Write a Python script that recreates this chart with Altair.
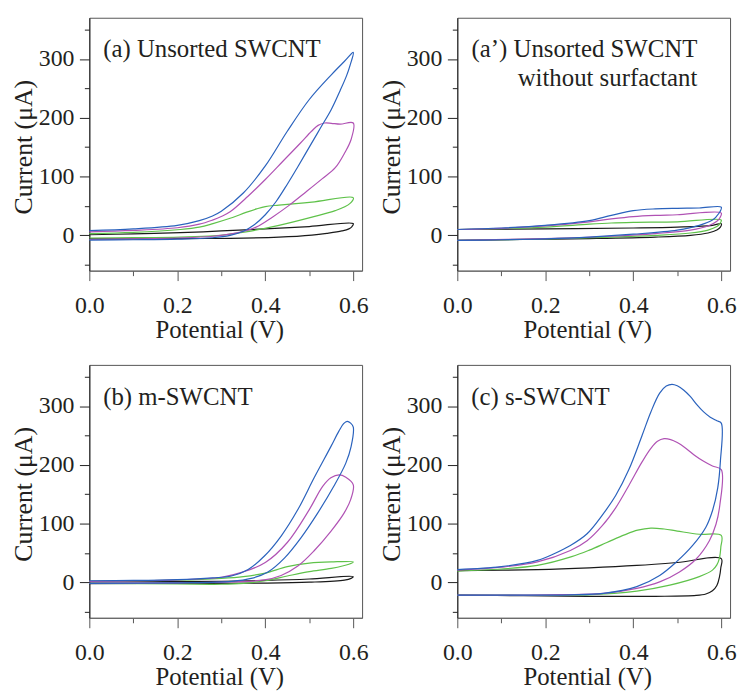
import altair as alt
import pandas as pd

FONT = "Liberation Serif"
TXT = "#231f20"

SERIES = ["black", "green", "magenta", "blue"]
COLORS = ["#1a1a1a", "#5fc24a", "#b052b4", "#2a62bd"]

# ---- panel (a) Unsorted SWCNT ----
A_BLACK_V = [0.00, 0.10, 0.207, 0.30, 0.40, 0.50, 0.60, 0.597, 0.59, 0.574, 0.54, 0.506, 0.431, 0.319, 0.20, 0.10, 0.00]
A_BLACK_I = [1, 2.5, 4.5, 7.5, 11, 15, 20, 15, 11, 7.5, 3.5, 0.5, -3, -5, -5.5, -6, -6]
A_GREEN_V = [0.00, 0.10, 0.207, 0.25, 0.281, 0.32, 0.356, 0.38, 0.40, 0.431, 0.506, 0.60, 0.592, 0.559, 0.506, 0.431, 0.356, 0.281, 0.207, 0.10, 0.00]
A_GREEN_I = [3, 5, 10, 14, 20, 29, 39, 45, 49, 51.5, 56.5, 64, 54, 42, 31, 17, 6, -1, -3, -4, -4.5]
A_MAGENTA_V = [0.00, 0.10, 0.20, 0.25, 0.28, 0.30, 0.32, 0.36, 0.40, 0.44, 0.48, 0.505, 0.52, 0.535, 0.55, 0.57, 0.60, 0.595, 0.581, 0.559, 0.529, 0.491, 0.454, 0.416, 0.379, 0.341, 0.281, 0.20, 0.10, 0.00]
A_MAGENTA_I = [6, 8.5, 13, 19, 26, 32, 40, 66, 95, 126, 157, 177, 187, 191, 190.5, 189, 191, 163, 141, 115, 96, 73, 51, 31, 14, 5, -1.5, -4.5, -6, -7]
A_BLUE_V = [0.00, 0.10, 0.20, 0.25, 0.28, 0.30, 0.35, 0.40, 0.45, 0.50, 0.55, 0.58, 0.60, 0.593, 0.585, 0.57, 0.55, 0.525, 0.50, 0.475, 0.45, 0.425, 0.40, 0.375, 0.35, 0.32, 0.28, 0.20, 0.10, 0.00]
A_BLUE_I = [8, 11, 17, 25, 33, 41, 72, 118, 177, 231, 273, 296, 311, 290, 272, 246, 214, 182, 150, 118, 87, 58, 35, 18, 7, 0, -4, -6.5, -7.5, -8]

# ---- panel (a') Unsorted SWCNT without surfactant ----
P_BLACK_V = [0.00, 0.20, 0.40, 0.50, 0.58, 0.60, 0.598, 0.59, 0.57, 0.53, 0.45, 0.30, 0.15, 0.00]
P_BLACK_I = [10, 11, 12.5, 14, 17, 20, 14, 9, 4, 0, -3, -5.5, -7, -8.5]
P_GREEN_V = [0.00, 0.10, 0.20, 0.30, 0.35, 0.40, 0.50, 0.60, 0.597, 0.59, 0.57, 0.53, 0.45, 0.35, 0.20, 0.00]
P_GREEN_I = [10, 11.5, 14, 19, 21, 22, 23, 26, 20, 15, 9, 4, 0, -3, -6, -8.5]
P_MAGENTA_V = [0.00, 0.10, 0.20, 0.30, 0.35, 0.40, 0.45, 0.50, 0.60, 0.597, 0.59, 0.57, 0.53, 0.45, 0.35, 0.20, 0.00]
P_MAGENTA_I = [10, 12, 16, 23, 28, 32, 34, 35, 38, 30, 24, 16, 9, 3, -1.5, -5.5, -8.5]
P_BLUE_V = [0.00, 0.10, 0.20, 0.30, 0.35, 0.40, 0.45, 0.50, 0.55, 0.60, 0.597, 0.59, 0.58, 0.55, 0.50, 0.40, 0.30, 0.20, 0.10, 0.00]
P_BLUE_I = [10, 12.5, 17, 25, 34, 42, 45, 46, 46.5, 48, 40, 33, 26, 17, 9, 2, -3, -6, -7.5, -8.5]

# ---- panel (b) m-SWCNT ----
B_BLACK_V = [0.00, 0.30, 0.40, 0.50, 0.60, 0.595, 0.58, 0.50, 0.40, 0.20, 0.00]
B_BLACK_I = [1, 2, 3.5, 6, 10, 7, 4, 0.5, -1, -1.5, -2]
B_GREEN_V = [0.00, 0.20, 0.30, 0.35, 0.40, 0.45, 0.50, 0.55, 0.60, 0.59, 0.55, 0.50, 0.45, 0.40, 0.35, 0.30, 0.20, 0.00]
B_GREEN_I = [2, 4, 7, 10, 16, 27, 33, 35, 35, 31, 24, 18.5, 11, 3, -1.5, -3, -2.5, -1.5]
B_MAGENTA_V = [0.00, 0.20, 0.30, 0.35, 0.40, 0.45, 0.50, 0.53, 0.549, 0.568, 0.583, 0.60, 0.594, 0.579, 0.549, 0.511, 0.474, 0.436, 0.398, 0.323, 0.20, 0.00]
B_MAGENTA_I = [2, 4.5, 9, 18, 34, 68, 124, 163, 178, 183, 179, 166, 141, 118, 87, 54, 28, 12, 4.5, 1, -0.5, -1.5]
B_BLUE_V = [0.00, 0.10, 0.20, 0.28, 0.323, 0.361, 0.398, 0.436, 0.474, 0.511, 0.549, 0.567, 0.578, 0.586, 0.594, 0.60, 0.595, 0.583, 0.556, 0.519, 0.481, 0.444, 0.406, 0.368, 0.323, 0.20, 0.00]
B_BLUE_I = [3, 3.5, 5, 8, 11, 22, 45, 79, 124, 178, 231, 257, 270, 274, 271, 264, 231, 203, 164, 118, 76, 42, 18, 7, 2, -0.5, -1.5]

# ---- panel (c) s-SWCNT ----
C_BLACK_V = [0.00, 0.182, 0.30, 0.408, 0.50, 0.60, 0.599, 0.596, 0.59, 0.58, 0.565, 0.543, 0.45, 0.30, 0.15, 0.00]
C_BLACK_I = [20, 22, 25, 29, 34, 40.5, 25, 10, -5, -14, -19.5, -22, -23.5, -23.5, -22.5, -21.5]
C_GREEN_V = [0.00, 0.10, 0.182, 0.26, 0.30, 0.34, 0.38, 0.41, 0.44, 0.47, 0.50, 0.55, 0.60, 0.599, 0.596, 0.59, 0.58, 0.55, 0.483, 0.408, 0.295, 0.10, 0.00]
C_GREEN_I = [19.5, 23, 29, 44, 55, 68, 81, 89, 92.5, 91, 87.5, 82, 80, 60, 42, 30, 21, 10, -4.5, -14.6, -21, -21.5, -21.5]
C_MAGENTA_V = [0.00, 0.10, 0.182, 0.257, 0.295, 0.33, 0.36, 0.39, 0.42, 0.44, 0.455, 0.47, 0.485, 0.50, 0.52, 0.54, 0.56, 0.58, 0.60, 0.597, 0.588, 0.573, 0.543, 0.505, 0.46, 0.408, 0.332, 0.20, 0.00]
C_MAGENTA_I = [21, 26, 35, 54.5, 71, 97, 127, 165, 205, 228, 240, 244.5, 243, 238, 228, 216, 206, 198, 192, 133, 99, 71, 40, 18, 1, -10, -18.5, -21, -21.5]
C_BLUE_V = [0.00, 0.10, 0.182, 0.22, 0.257, 0.295, 0.33, 0.36, 0.39, 0.42, 0.44, 0.46, 0.475, 0.488, 0.50, 0.515, 0.53, 0.545, 0.56, 0.575, 0.59, 0.60, 0.598, 0.592, 0.58, 0.565, 0.535, 0.498, 0.46, 0.408, 0.332, 0.257, 0.10, 0.00]
C_BLUE_I = [22, 27, 37.6, 49, 63, 83, 115, 148, 192, 250, 290, 322, 334, 337, 334.5, 327, 316, 302, 290, 281, 275, 271, 206, 161, 122, 94, 63, 35, 12, -7, -18.5, -21, -21.5, -21.5]

X_TICKS = [0.0, 0.1, 0.2, 0.3, 0.4, 0.5, 0.6]
Y_TICKS = [-50, 0, 50, 100, 150, 200, 250, 300, 350]
X_DOMAIN = [0, 0.62]
Y_DOMAIN = [-60, 370]

PANELS = {
    "a": [(A_BLACK_V, A_BLACK_I), (A_GREEN_V, A_GREEN_I), (A_MAGENTA_V, A_MAGENTA_I), (A_BLUE_V, A_BLUE_I)],
    "p": [(P_BLACK_V, P_BLACK_I), (P_GREEN_V, P_GREEN_I), (P_MAGENTA_V, P_MAGENTA_I), (P_BLUE_V, P_BLUE_I)],
    "b": [(B_BLACK_V, B_BLACK_I), (B_GREEN_V, B_GREEN_I), (B_MAGENTA_V, B_MAGENTA_I), (B_BLUE_V, B_BLUE_I)],
    "c": [(C_BLACK_V, C_BLACK_I), (C_GREEN_V, C_GREEN_I), (C_MAGENTA_V, C_MAGENTA_I), (C_BLUE_V, C_BLUE_I)],
}


def frame(key):
    rows = []
    for s, (vs, cs) in zip(SERIES, PANELS[key]):
        for k, (v, c) in enumerate(zip(vs, cs)):
            rows.append({"series": s, "V": v, "I": c, "idx": k})
    return pd.DataFrame(rows)


x_axis = alt.Axis(
    title="Potential (V)", values=X_TICKS, grid=False,
    labelExpr="round(datum.value*10) % 2 == 0 ? format(datum.value, '.1f') : ''",
    tickSize={"condition": {"test": "round(datum.value*10) % 2 == 0", "value": 10}, "value": 5},
    labelFont=FONT, labelFontSize=24, labelColor=TXT, labelPadding=13,
    labelFlush=False, labelOverlap=False,
    titleFont=FONT, titleFontSize=25, titleFontWeight="normal", titleColor=TXT,
    titleX=131, titleY=67, titleBaseline="alphabetic",
    domainColor="#666666", tickColor="#555555",
)

y_axis = alt.Axis(
    title="Current (μA)", values=Y_TICKS, grid=False,
    labelExpr="datum.value % 100 == 0 ? format(datum.value, 'd') : ''",
    tickSize={"condition": {"test": "datum.value % 100 == 0", "value": 10}, "value": 5},
    labelFont=FONT, labelFontSize=24, labelColor=TXT, labelPadding=5.5,
    labelOverlap=False, labelFlush=False,
    titleFont=FONT, titleFontSize=26, titleFontWeight="normal", titleColor=TXT,
    titleX=-58, titleY=130, titleBaseline="alphabetic", titleAngle=270,
    domainColor="#222222", tickColor="#222222",
)


def panel(key, label, tx, align):
    lines = alt.Chart(frame(key)).mark_line(strokeWidth=1.2, interpolate="catmull-rom").encode(
        x=alt.X("V:Q", scale=alt.Scale(domain=X_DOMAIN, nice=False, zero=False), axis=x_axis),
        y=alt.Y("I:Q", scale=alt.Scale(domain=Y_DOMAIN, nice=False, zero=False), axis=y_axis),
        color=alt.Color("series:N", scale=alt.Scale(domain=SERIES, range=COLORS), legend=None),
        order=alt.Order("idx:Q"),
    )
    text = alt.Chart(pd.DataFrame({"label": [label]})).mark_text(
        font=FONT, fontSize=25, color=TXT, align=align, baseline="alphabetic",
        lineBreak="\n", lineHeight=29,
    ).encode(x=alt.value(tx), y=alt.value(40), text="label:N")
    return alt.layer(lines, text).properties(width=275, height=255)


pa = panel("a", "(a) Unsorted SWCNT", 14, "left")
pp = panel("p", "(a\u2019) Unsorted SWCNT\nwithout surfactant", 242, "right")
pb = panel("b", "(b) m-SWCNT", 14, "left")
pc = panel("c", "(c) s-SWCNT", 14, "left")

chart = alt.concat(
    pa, pp, pb, pc, columns=2, spacing={"row": 95, "column": 96}, bounds="flush"
).properties(
    padding={"left": 2, "top": 6, "right": 0, "bottom": 0}
).configure_view(stroke="#555555", strokeWidth=1)

chart.save("out.html", embed_options={"renderer": "svg", "actions": False})
